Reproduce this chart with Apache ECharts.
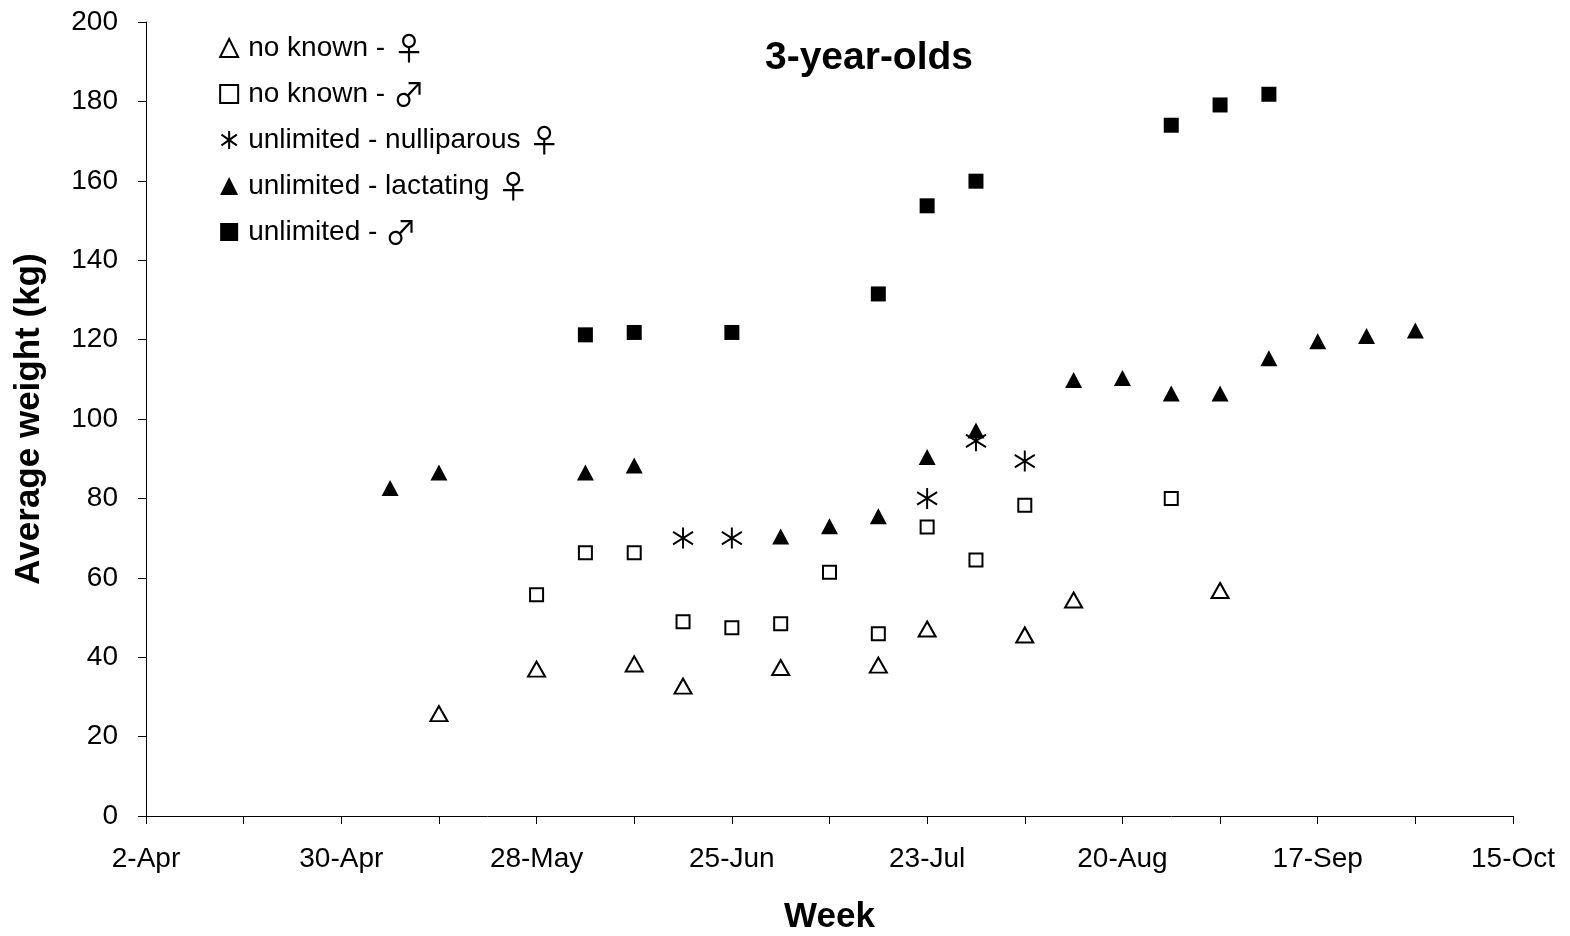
<!DOCTYPE html>
<html>
<head>
<meta charset="utf-8">
<script src="https://cdn.jsdelivr.net/npm/echarts@6/dist/echarts.min.js"></script>
<style>
  html, body { margin: 0; padding: 0; background: #fff; }
  #chart { width: 1570px; height: 936px; }
</style>
</head>
<body>
<div id="chart"></div>
<script>
// Weekly average weights of 3-year-olds by group (kg)
const noKnownFemaleDates   = ['14-May','28-May','11-Jun','18-Jun','2-Jul','16-Jul','23-Jul','6-Aug','13-Aug','3-Sep'];
const noKnownFemaleWeights = [25.8, 37.0, 38.3, 32.7, 37.4, 38.0, 47.1, 45.6, 54.4, 56.8];

const noKnownMaleDates   = ['28-May','4-Jun','11-Jun','18-Jun','25-Jun','2-Jul','9-Jul','16-Jul','23-Jul','30-Jul','6-Aug','27-Aug'];
const noKnownMaleWeights = [55.7, 66.3, 66.3, 48.9, 47.4, 48.4, 61.4, 45.9, 72.8, 64.5, 78.3, 80.0];

const nulliparousDates   = ['18-Jun','25-Jun','23-Jul','30-Jul','6-Aug'];
const nulliparousWeights = [70.0, 70.0, 80.0, 94.5, 89.4];

const lactatingDates   = ['7-May','14-May','4-Jun','11-Jun','2-Jul','9-Jul','16-Jul','23-Jul','30-Jul','13-Aug','20-Aug','27-Aug','3-Sep','10-Sep','17-Sep','24-Sep','1-Oct'];
const lactatingWeights = [82.6, 86.5, 86.5, 88.3, 70.4, 73.0, 75.5, 90.4, 97.1, 109.8, 110.3, 106.4, 106.4, 115.3, 119.6, 120.9, 122.3];

const unlimitedMaleDates   = ['4-Jun','11-Jun','25-Jun','16-Jul','23-Jul','30-Jul','27-Aug','3-Sep','10-Sep'];
const unlimitedMaleWeights = [121.2, 121.8, 121.8, 131.5, 153.7, 159.9, 174.0, 179.1, 181.8];

// Axis labels (every four weeks from 2-Apr)
const weekLabels = ['2-Apr','30-Apr','28-May','25-Jun','23-Jul','20-Aug','17-Sep','15-Oct'];
const yTicks = [0, 20, 40, 60, 80, 100, 120, 140, 160, 180, 200];

const legendNames = ['no known - ♀', 'no known - ♂', 'unlimited - nulliparous ♀', 'unlimited - lactating ♀', 'unlimited - ♂'];

const MONTHS = {Jan:0,Feb:1,Mar:2,Apr:3,May:4,Jun:5,Jul:6,Aug:7,Sep:8,Oct:9,Nov:10,Dec:11};
const START = Date.UTC(2001, 3, 2);
function dayOf(label) {
  const [d, m] = label.split('-');
  return Math.round((Date.UTC(2001, MONTHS[m], +d) - START) / 86400000);
}
function pairs(dates, weights) {
  return dates.map((d, i) => [dayOf(d), weights[i]]);
}
const labelByDay = {};
weekLabels.forEach(l => { labelByDay[dayOf(l)] = l; });

const FONT = '"Liberation Sans", Arial, sans-serif';
const STAR = 'path://M0,-10L0,10M-8.5,-6L8.5,6M-8.5,6L8.5,-6';

// Sex symbols are set in a separate, thin-stroked glyph style
function legendText(name) {
  return name.replace(/([♀♂])/g, '{g|$1}');
}

const chart = echarts.init(document.getElementById('chart'), null, { renderer: 'canvas' });
chart.setOption({
  backgroundColor: '#ffffff',
  animation: false,
  title: {
    text: '3-year-olds',
    left: 864, top: 34,
    textAlign: 'center',
    textStyle: { fontFamily: FONT, fontWeight: 'bold', fontSize: 39, color: '#000' }
  },
  legend: {
    orient: 'vertical',
    left: 214, top: 27,
    itemWidth: 18, itemHeight: 18,
    itemGap: 14,
    data: legendNames,
    formatter: legendText,
    textStyle: {
      fontFamily: FONT, fontSize: 28, color: '#000', lineHeight: 30,
      padding: [0, 0, 0, 5],
      rich: {
        g: { fontFamily: '"Noto Sans CJK JP", "DejaVu Sans", sans-serif', fontSize: 32, lineHeight: 30, color: '#000', padding: [0, 0, 0, 0] }
      }
    }
  },
  grid: { left: 146, right: 57, top: 22, bottom: 120, containLabel: false, outerBoundsMode: 'none' },
  xAxis: {
    type: 'value',
    min: 0, max: dayOf('15-Oct'), interval: 14,
    name: 'Week',
    nameLocation: 'middle',
    nameGap: 84,
    nameTextStyle: { fontFamily: FONT, fontWeight: 'bold', fontSize: 35, color: '#000' },
    axisLine: { show: true, lineStyle: { color: '#000', width: 1 } },
    axisTick: { show: true, length: 8, lineStyle: { color: '#000' } },
    splitLine: { show: false },
    axisLabel: {
      margin: 29,
      fontFamily: FONT, fontSize: 28, color: '#000',
      showMaxLabel: true, showMinLabel: true,
      formatter: v => labelByDay[v] || ''
    }
  },
  yAxis: {
    type: 'value',
    min: yTicks[0], max: yTicks[yTicks.length - 1], interval: 20,
    name: 'Average weight (kg)',
    nameLocation: 'middle',
    nameRotate: 90,
    nameGap: 99,
    nameTextStyle: { fontFamily: FONT, fontWeight: 'bold', fontSize: 35, color: '#000' },
    axisLine: { show: true, lineStyle: { color: '#000', width: 1 } },
    axisTick: { show: true, length: 8, lineStyle: { color: '#000' } },
    splitLine: { show: false },
    axisLabel: { margin: 28, fontFamily: FONT, fontSize: 28, color: '#000' }
  },
  series: [
    {
      name: legendNames[0], type: 'scatter', symbol: 'triangle', symbolSize: [17, 15],
      itemStyle: { color: '#fff', borderColor: '#000', borderWidth: 2, opacity: 1 },
      data: pairs(noKnownFemaleDates, noKnownFemaleWeights), z: 3
    },
    {
      name: legendNames[1], type: 'scatter', symbol: 'rect', symbolSize: 13,
      itemStyle: { color: '#fff', borderColor: '#000', borderWidth: 2, opacity: 1 },
      data: pairs(noKnownMaleDates, noKnownMaleWeights), z: 3
    },
    {
      name: legendNames[2], type: 'scatter', symbol: STAR, symbolSize: [20, 21],
      itemStyle: { color: 'none', borderColor: '#000', borderWidth: 2, opacity: 1 },
      data: pairs(nulliparousDates, nulliparousWeights), z: 4
    },
    {
      name: legendNames[3], type: 'scatter', symbol: 'triangle', symbolSize: [17, 16],
      itemStyle: { color: '#000', borderWidth: 0, opacity: 1 },
      data: pairs(lactatingDates, lactatingWeights), z: 3
    },
    {
      name: legendNames[4], type: 'scatter', symbol: 'rect', symbolSize: 15,
      itemStyle: { color: '#000', borderWidth: 0, opacity: 1 },
      data: pairs(unlimitedMaleDates, unlimitedMaleWeights), z: 3
    }
  ]
});
</script>
</body>
</html>
